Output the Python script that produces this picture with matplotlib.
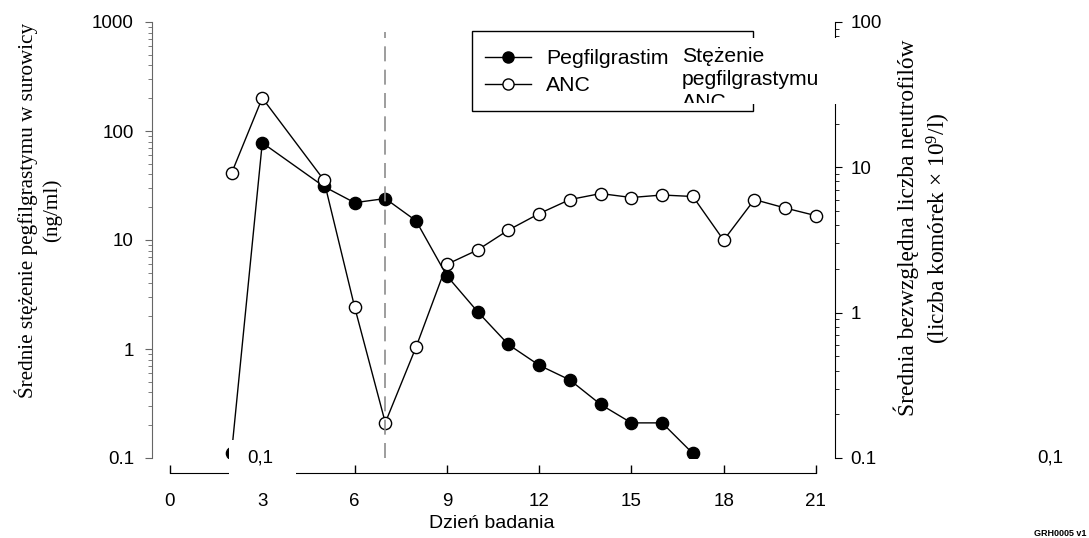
import matplotlib
matplotlib.use("Agg")
import matplotlib.pyplot as plt
from matplotlib.lines import Line2D
from matplotlib.patches import Rectangle
from matplotlib.transforms import Bbox
from matplotlib.ticker import FixedLocator, FixedFormatter, LogLocator, NullFormatter

plt.rcParams['font.family'] = ['Liberation Sans', 'DejaVu Sans']
plt.rcParams['mathtext.fontset'] = 'custom'
plt.rcParams['mathtext.rm'] = 'Liberation Serif'
plt.rcParams['mathtext.default'] = 'rm'

# data
days_peg = [2, 3, 5, 6, 7, 8, 9, 10, 11, 12, 13, 14, 15, 16, 17]
peg = [0.11, 78, 31, 22, 24, 15, 4.7, 2.2, 1.1, 0.71, 0.52, 0.31, 0.21, 0.21, 0.11]

days_anc = [2, 3, 5, 6, 7, 8, 9, 10, 11, 12, 13, 14, 15, 16, 17, 18, 19, 20, 21]
anc = [9.1, 30, 8.2, 1.1, 0.175, 0.58, 2.15, 2.7, 3.7, 4.8, 6.0, 6.6, 6.2, 6.45, 6.3, 3.15, 6.0, 5.25, 4.65]

xticks = [0, 3, 6, 9, 12, 15, 18, 21]
left_ticks = [0.1, 1, 10, 100, 1000]
left_labels = ['0.1', '1', '10', '100', '1000']
right_ticks = [0.1, 1, 10, 100]
right_labels = ['0.1', '1', '10', '100']
legend_labels = ['Pegfilgrastim', 'ANC']

W, H = 1089, 538
def fx(p): return p / W
def fy(p): return 1 - p / H

fig = plt.figure(figsize=(W / 100, H / 100), dpi=100)
ax = fig.add_axes([fx(152), fy(458), (835 - 152) / W, (458 - 22) / H])
ax2 = ax.twinx()

# left axis - pegfilgrastim
ax.set_yscale('log')
ax.set_ylim(0.1, 1000)
ax.set_xlim(-0.585, 21.62)
ax.plot(days_peg, peg, color='k', lw=1.0, marker='o', ms=8.8, mfc='k', mec='k', zorder=3)
ax.spines['top'].set_visible(False)
ax.spines['right'].set_visible(False)
ax.spines['left'].set_color('#666666')
ax.spines['bottom'].set_position(('outward', 11))
ax.spines['bottom'].set_bounds(0, 21)
ax.set_xticks(xticks)
ax.tick_params(axis='x', direction='in', length=6, width=1, pad=14, labelsize=13.5)
ax.yaxis.set_major_locator(FixedLocator(left_ticks))
ax.yaxis.set_major_formatter(FixedFormatter(left_labels))
ax.yaxis.set_minor_locator(LogLocator(base=10, subs=range(2, 10)))
ax.yaxis.set_minor_formatter(NullFormatter())
ax.tick_params(axis='y', which='major', length=5, color='#666666', pad=8, labelsize=13.5)
ax.tick_params(axis='y', which='minor', length=3, color='#666666')

# right axis - ANC
ax2.set_yscale('log')
ax2.set_ylim(0.1, 100)
ax2.plot(days_anc, anc, color='k', lw=1.0, marker='o', ms=8.8, mfc='white', mec='k', mew=1.0, zorder=3)
ax2.axvline(7, ymin=0, ymax=(458 - 32) / 436, color='#8c8c8c', lw=1.2, dashes=(9, 5), zorder=4)
for s in ['top', 'left', 'bottom']:
    ax2.spines[s].set_visible(False)
ax2.yaxis.set_major_locator(FixedLocator(right_ticks))
ax2.yaxis.set_major_formatter(FixedFormatter(right_labels))
ax2.yaxis.set_minor_locator(LogLocator(base=10, subs=range(2, 10)))
ax2.yaxis.set_minor_formatter(NullFormatter())
ax2.tick_params(axis='y', which='major', length=5, pad=6, labelsize=13.5)
ax2.tick_params(axis='y', which='minor', length=3)

# legend with a plain frame
handles = [Line2D([], [], color='k', lw=1.0, marker='o', ms=8, mfc='k', mec='k'),
           Line2D([], [], color='k', lw=1.0, marker='o', ms=8, mfc='white', mec='k')]
fig.add_artist(Rectangle((fx(472), fy(111)), (753 - 472) / W, (111 - 31) / H,
                         transform=fig.transFigure, fill=False, ec='k', lw=1.0, zorder=4))
fig.legend(handles, legend_labels, loc='upper left', bbox_to_anchor=(fx(476), fy(41)),
           frameon=False, fontsize=15.3, handlelength=2.2, handletextpad=0.7,
           labelspacing=0.37, borderaxespad=0)

# white box with clipped text over the legend edge
fig.add_artist(Rectangle((fx(680), fy(104)), (840 - 680) / W, (104 - 38) / H,
                         transform=fig.transFigure, fc='white', ec='none', zorder=5))
t = fig.text(fx(682), fy(47), 'Stężenie\npegfilgrastymu\nANC', ha='left', va='top',
             fontsize=15.2, linespacing=1.25, zorder=6)
t.set_clip_box(Bbox([[680, H - 103], [840, H - 38]]))
t.set_clip_on(True)

# "0,1" labels
fig.add_artist(Rectangle((fx(229), fy(478)), (296 - 229) / W, (478 - 440) / H,
                         transform=fig.transFigure, fc='white', ec='none', zorder=5))
fig.text(fx(260), fy(458), '0,1', ha='center', va='center', fontsize=13.5, zorder=6)
fig.text(fx(1050), fy(458), '0,1', ha='center', va='center', fontsize=13.5)

fig.text(fx(492), fy(523), 'Dzień badania', ha='center', va='center', fontsize=14)
fig.text(fx(38), fy(210), 'Średnie stężenie pegfilgrastymu w surowicy\n(ng/ml)',
         rotation=90, ha='center', va='center', multialignment='center',
         family='Liberation Serif', fontsize=15.2, linespacing=1.3)
fig.text(fx(923), fy(228), 'Średnia bezwzględna liczba neutrofilów\n(liczba komórek × 10$^{9}$/l)',
         rotation=90, ha='center', va='center', multialignment='center',
         family='Liberation Serif', fontsize=16.8, linespacing=1.3)
fig.text(fx(1086), fy(533), 'GRH0005 v1', ha='right', va='center', fontsize=6.5,
         fontweight='bold', family=['Liberation Sans Narrow', 'Liberation Sans'])

fig.savefig('out.png', dpi=100)
